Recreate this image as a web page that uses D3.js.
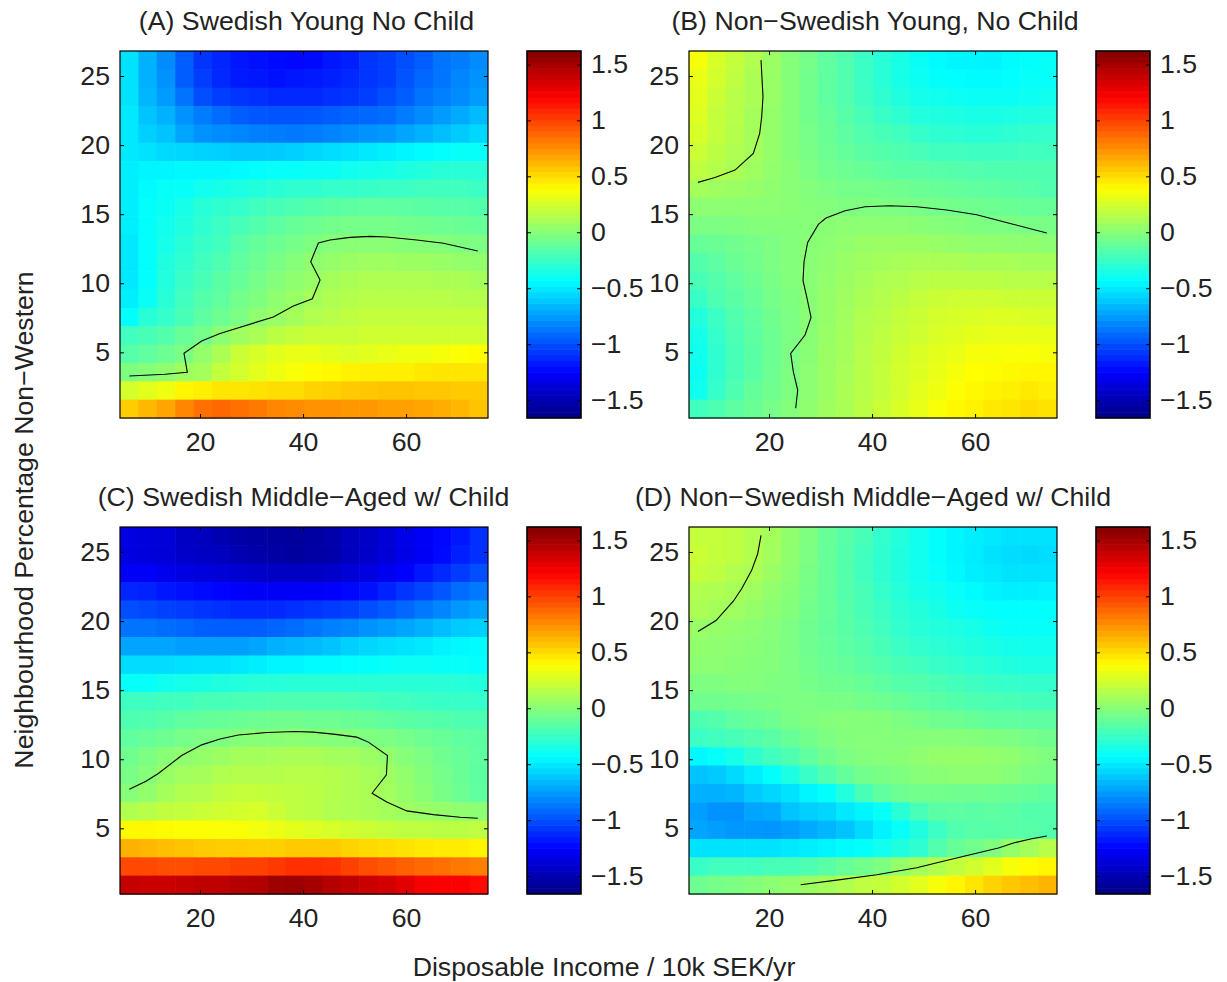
<!DOCTYPE html>
<html><head><meta charset="utf-8">
<style>html,body{margin:0;padding:0;background:#fff}svg{display:block}text{font-family:"Liberation Sans",Arial,sans-serif;fill:#222}</style>
<script src="https://cdn.jsdelivr.net/npm/d3@7/dist/d3.min.js"></script>
</head><body><svg id="c" width="1227" height="982"></svg>
<script>
const titles=["(A) Swedish Young No Child","(B) Non\u2212Swedish Young, No Child","(C) Swedish Middle\u2212Aged w/ Child","(D) Non\u2212Swedish Middle\u2212Aged w/ Child"];
const xLabel="Disposable Income / 10k SEK/yr";
const yLabel="Neighbourhood Percentage Non\u2212Western";
const incomeTicks=[20,40,60];
const percentTicks=[5,10,15,20,25];
const colorTicks=[-1.5,-1,-0.5,0,0.5,1,1.5];
const incomeRange=[4.47,75.9];
const percentRange=[0.246,26.81];
const colorRange=[-1.66,1.62];
// rows listed top (high percentage) to bottom, columns low to high income
const gridA=[
[-.52,-.68,-.8,-.95,-1.08,-1.13,-1.18,-1.2,-1.22,-1.23,-1.22,-1.18,-1.15,-1.08,-1.05,-1,-.95,-.88,-.85,-.8],
[-.52,-.68,-.78,-.95,-1.05,-1.12,-1.17,-1.18,-1.2,-1.18,-1.17,-1.15,-1.12,-1.08,-1.05,-.98,-.92,-.87,-.82,-.78],
[-.52,-.66,-.75,-.88,-1,-1.05,-1.08,-1.1,-1.12,-1.12,-1.12,-1.1,-1.08,-1.05,-1,-.95,-.88,-.84,-.8,-.75],
[-.5,-.62,-.68,-.78,-.85,-.9,-.95,-.97,-.98,-.98,-.97,-.95,-.93,-.92,-.9,-.85,-.8,-.75,-.7,-.65],
[-.5,-.58,-.62,-.72,-.78,-.8,-.82,-.84,-.85,-.86,-.85,-.83,-.8,-.78,-.76,-.72,-.68,-.64,-.6,-.56],
[-.5,-.52,-.55,-.56,-.57,-.58,-.6,-.6,-.6,-.58,-.56,-.54,-.52,-.5,-.48,-.46,-.44,-.42,-.41,-.41],
[-.48,-.46,-.46,-.45,-.45,-.45,-.44,-.42,-.41,-.41,-.4,-.4,-.38,-.37,-.36,-.34,-.32,-.3,-.3,-.3],
[-.48,-.44,-.41,-.41,-.38,-.36,-.34,-.32,-.3,-.28,-.28,-.26,-.26,-.25,-.24,-.24,-.22,-.22,-.22,-.24],
[-.48,-.42,-.4,-.36,-.3,-.28,-.26,-.22,-.2,-.18,-.16,-.14,-.13,-.12,-.12,-.13,-.14,-.15,-.15,-.16],
[-.48,-.42,-.38,-.33,-.28,-.24,-.2,-.17,-.13,-.1,-.08,-.06,-.05,-.05,-.05,-.06,-.07,-.08,-.09,-.1],
[-.5,-.42,-.36,-.3,-.25,-.22,-.15,-.11,-.08,-.05,-.02,0,.01,.01,.01,0,0,-.01,-.02,-.03],
[-.5,-.42,-.33,-.28,-.22,-.18,-.12,-.08,-.04,0,.03,.05,.07,.08,.08,.07,.07,.06,.05,.04],
[-.5,-.42,-.32,-.25,-.2,-.14,-.1,-.05,-.01,.03,.06,.1,.12,.13,.13,.13,.13,.12,.12,.1],
[-.48,-.4,-.3,-.22,-.16,-.12,-.06,-.02,.03,.06,.1,.13,.15,.16,.16,.16,.16,.16,.15,.15],
[-.42,-.3,-.26,-.2,-.13,-.08,-.03,.03,.06,.1,.14,.16,.18,.2,.2,.2,.2,.2,.2,.2],
[-.22,-.2,-.16,-.1,-.05,.02,.08,.12,.17,.2,.22,.22,.22,.24,.24,.24,.24,.24,.24,.24],
[-.15,-.12,-.08,-.03,.05,.12,.22,.26,.3,.32,.32,.3,.28,.3,.32,.34,.34,.36,.38,.4],
[-.02,0,.03,.08,.1,.2,.25,.3,.34,.37,.4,.41,.43,.44,.44,.44,.46,.47,.47,.47],
[.25,.3,.34,.42,.44,.47,.47,.48,.5,.5,.53,.54,.56,.57,.58,.58,.57,.57,.56,.56],
[.55,.62,.68,.78,.85,.88,.85,.82,.78,.76,.74,.74,.72,.72,.7,.7,.68,.65,.62,.58]];
const gridB=[
[.36,.26,.2,.14,.07,0,-.05,-.12,-.17,-.24,-.3,-.35,-.4,-.44,-.46,-.46,-.47,-.44,-.42,-.41],
[.32,.25,.18,.12,.06,0,-.06,-.12,-.17,-.24,-.3,-.36,-.39,-.42,-.43,-.44,-.44,-.43,-.41,-.41],
[.3,.22,.16,.12,.06,0,-.06,-.12,-.17,-.23,-.28,-.33,-.37,-.38,-.39,-.4,-.4,-.4,-.39,-.38],
[.28,.2,.16,.1,.05,0,-.06,-.1,-.15,-.2,-.25,-.28,-.32,-.33,-.34,-.35,-.35,-.34,-.33,-.32],
[.26,.2,.15,.1,.05,0,-.05,-.09,-.13,-.17,-.2,-.22,-.26,-.28,-.29,-.3,-.3,-.28,-.27,-.26],
[.22,.17,.13,.1,.05,0,-.04,-.08,-.11,-.14,-.16,-.18,-.2,-.22,-.22,-.23,-.23,-.23,-.22,-.22],
[.18,.15,.12,.08,.04,.01,-.03,-.06,-.08,-.1,-.12,-.14,-.14,-.15,-.16,-.17,-.18,-.18,-.18,-.18],
[.1,.08,.07,.05,.03,.01,-.01,-.03,-.05,-.05,-.06,-.07,-.09,-.1,-.11,-.12,-.13,-.14,-.15,-.17],
[.02,.02,.02,.02,.02,.01,0,-.01,-.02,-.02,-.02,-.03,-.04,-.05,-.06,-.07,-.08,-.09,-.1,-.1],
[-.03,-.03,-.02,-.01,-.01,0,0,.01,.02,.02,.02,.02,.01,0,-.01,-.02,-.03,-.03,-.04,-.04],
[-.1,-.09,-.07,-.05,-.03,-.01,.01,.02,.04,.06,.07,.07,.07,.06,.05,.04,.04,.03,.03,.02],
[-.16,-.13,-.09,-.06,-.03,-.01,.01,.03,.06,.08,.1,.11,.12,.12,.12,.11,.11,.11,.1,.1],
[-.2,-.16,-.12,-.08,-.04,-.01,.01,.04,.07,.1,.13,.14,.16,.17,.17,.17,.17,.16,.16,.16],
[-.25,-.18,-.14,-.1,-.05,-.02,.01,.05,.08,.12,.15,.17,.2,.22,.23,.23,.23,.22,.22,.22],
[-.32,-.24,-.17,-.12,-.07,-.03,.01,.05,.09,.14,.16,.2,.22,.25,.26,.27,.28,.28,.27,.26],
[-.36,-.26,-.19,-.13,-.08,-.03,.01,.06,.1,.15,.18,.21,.24,.27,.29,.31,.32,.32,.32,.32],
[-.38,-.28,-.2,-.14,-.08,-.03,.01,.07,.1,.16,.19,.24,.27,.3,.32,.36,.36,.37,.37,.36],
[-.39,-.28,-.2,-.14,-.08,-.02,.02,.07,.11,.16,.2,.25,.28,.32,.36,.39,.4,.41,.42,.42],
[-.38,-.26,-.18,-.11,-.07,-.02,.02,.07,.12,.16,.2,.25,.3,.34,.38,.41,.43,.44,.46,.44],
[-.22,-.18,-.13,-.09,-.05,-.01,.03,.08,.12,.17,.22,.27,.32,.37,.41,.43,.46,.47,.5,.48]];
const gridC=[
[-1.35,-1.36,-1.38,-1.44,-1.46,-1.5,-1.53,-1.55,-1.56,-1.57,-1.55,-1.52,-1.46,-1.43,-1.38,-1.32,-1.28,-1.23,-1.18,-1.1],
[-1.35,-1.36,-1.38,-1.42,-1.44,-1.46,-1.5,-1.52,-1.54,-1.56,-1.54,-1.52,-1.46,-1.42,-1.38,-1.32,-1.28,-1.22,-1.15,-1.1],
[-1.28,-1.28,-1.31,-1.34,-1.36,-1.38,-1.4,-1.42,-1.44,-1.44,-1.44,-1.42,-1.38,-1.35,-1.3,-1.25,-1.18,-1.12,-1.06,-1],
[-1.13,-1.14,-1.18,-1.2,-1.22,-1.24,-1.26,-1.28,-1.28,-1.28,-1.27,-1.26,-1.23,-1.2,-1.14,-1.08,-1.03,-.97,-.9,-.86],
[-1,-1.02,-1.04,-1.06,-1.08,-1.1,-1.12,-1.12,-1.12,-1.1,-1.08,-1.06,-1.04,-1,-.96,-.92,-.86,-.82,-.76,-.73],
[-.88,-.88,-.9,-.92,-.94,-.95,-.95,-.95,-.93,-.9,-.87,-.84,-.82,-.78,-.75,-.72,-.68,-.64,-.6,-.58],
[-.72,-.72,-.72,-.74,-.74,-.74,-.74,-.72,-.68,-.66,-.65,-.62,-.58,-.56,-.54,-.52,-.5,-.47,-.45,-.44],
[-.54,-.54,-.54,-.53,-.52,-.52,-.5,-.48,-.46,-.46,-.44,-.44,-.43,-.42,-.41,-.4,-.4,-.41,-.41,-.42],
[-.41,-.41,-.38,-.36,-.35,-.33,-.32,-.31,-.31,-.3,-.3,-.3,-.3,-.3,-.3,-.3,-.3,-.3,-.31,-.32],
[-.23,-.23,-.22,-.22,-.2,-.2,-.19,-.19,-.18,-.18,-.18,-.18,-.19,-.2,-.22,-.22,-.24,-.25,-.25,-.26],
[-.18,-.17,-.15,-.12,-.11,-.1,-.09,-.08,-.07,-.07,-.08,-.08,-.09,-.1,-.12,-.14,-.15,-.16,-.18,-.18],
[-.12,-.1,-.08,-.05,-.03,-.02,0,.01,.01,.02,.01,0,0,-.02,-.03,-.05,-.08,-.1,-.12,-.13],
[-.07,-.03,.01,.03,.05,.07,.1,.1,.11,.12,.12,.1,.09,.07,.04,0,-.03,-.07,-.1,-.12],
[-.04,0,.06,.09,.1,.14,.15,.15,.15,.16,.16,.15,.13,.11,.08,.04,-.01,-.05,-.09,-.13],
[0,.04,.1,.14,.15,.18,.2,.2,.19,.18,.17,.15,.13,.12,.09,.05,.01,-.04,-.08,-.12],
[.14,.16,.19,.2,.22,.24,.25,.26,.22,.18,.17,.14,.13,.12,.1,.08,.06,.05,.03,.02],
[.41,.41,.4,.38,.38,.38,.37,.35,.33,.3,.28,.26,.24,.22,.2,.18,.18,.17,.17,.18],
[.64,.62,.6,.58,.56,.55,.55,.54,.54,.56,.56,.56,.53,.51,.5,.48,.46,.45,.45,.43],
[.98,.98,.96,.96,.98,.98,1,1,1.03,1.06,1.06,1.05,1,.96,.93,.9,.87,.85,.82,.8],
[1.4,1.38,1.38,1.4,1.42,1.42,1.45,1.46,1.52,1.53,1.5,1.45,1.42,1.38,1.35,1.3,1.24,1.22,1.22,1.18]];
const gridD=[
[.2,.2,.18,.14,.1,.04,-.02,-.1,-.15,-.2,-.27,-.32,-.38,-.42,-.46,-.48,-.5,-.52,-.52,-.52],
[.22,.2,.18,.14,.09,.03,-.03,-.1,-.16,-.22,-.28,-.33,-.38,-.42,-.46,-.49,-.52,-.54,-.55,-.54],
[.2,.18,.14,.12,.07,.02,-.04,-.1,-.16,-.22,-.28,-.33,-.38,-.41,-.45,-.48,-.5,-.52,-.52,-.52],
[.14,.13,.11,.08,.04,0,-.05,-.1,-.16,-.2,-.26,-.31,-.36,-.38,-.41,-.44,-.47,-.48,-.48,-.47],
[.12,.1,.08,.05,.02,-.01,-.06,-.1,-.15,-.2,-.24,-.29,-.32,-.35,-.39,-.41,-.42,-.43,-.43,-.42],
[.06,.05,.04,.02,0,-.03,-.07,-.11,-.14,-.18,-.22,-.27,-.3,-.32,-.34,-.36,-.39,-.41,-.41,-.41],
[.04,.03,.02,.01,-.01,-.03,-.07,-.1,-.13,-.16,-.2,-.24,-.27,-.29,-.31,-.33,-.35,-.37,-.38,-.38],
[.02,.02,.01,0,-.01,-.03,-.06,-.09,-.11,-.14,-.17,-.2,-.22,-.25,-.27,-.29,-.31,-.33,-.34,-.34],
[-.02,-.02,-.01,-.01,-.02,-.03,-.05,-.07,-.08,-.1,-.13,-.16,-.17,-.19,-.21,-.23,-.25,-.26,-.27,-.27],
[-.07,-.07,-.06,-.05,-.04,-.03,-.03,-.04,-.04,-.06,-.08,-.1,-.12,-.14,-.16,-.18,-.19,-.2,-.21,-.21],
[-.18,-.16,-.12,-.1,-.08,-.04,-.02,-.01,0,0,-.01,-.03,-.05,-.07,-.08,-.1,-.12,-.12,-.13,-.13],
[-.24,-.22,-.2,-.17,-.14,-.1,-.06,-.03,-.01,0,0,-.01,0,0,0,-.01,-.02,-.03,-.05,-.07],
[-.45,-.41,-.36,-.28,-.22,-.18,-.12,-.07,-.03,-.01,0,.01,.03,.05,.05,.05,.04,.03,0,-.02],
[-.62,-.6,-.55,-.48,-.42,-.34,-.25,-.17,-.11,-.06,-.04,-.02,0,.01,.02,.02,.02,0,-.03,-.04],
[-.68,-.68,-.66,-.6,-.56,-.52,-.46,-.42,-.32,-.2,-.12,-.08,-.06,-.06,-.07,-.07,-.08,-.09,-.1,-.12],
[-.74,-.78,-.78,-.72,-.7,-.62,-.58,-.56,-.5,-.46,-.41,-.3,-.2,-.14,-.13,-.14,-.13,-.14,-.16,-.16],
[-.72,-.74,-.76,-.76,-.77,-.74,-.7,-.66,-.62,-.55,-.47,-.41,-.33,-.24,-.17,-.15,-.15,-.14,-.15,-.16],
[-.52,-.52,-.52,-.52,-.52,-.5,-.48,-.46,-.44,-.42,-.38,-.33,-.28,-.17,-.1,-.06,-.02,.05,.1,.16],
[-.25,-.22,-.22,-.22,-.2,-.2,-.18,-.14,-.1,-.06,-.02,.05,.1,.14,.19,.24,.3,.36,.4,.42],
[-.08,-.05,-.03,-.01,.02,.04,.07,.1,.14,.18,.2,.25,.3,.36,.42,.47,.53,.57,.6,.63]];
// zero contours as [income, percentage]
const contoursA=[[[6.28,3.29],[13.2,3.41],[17.54,3.55],[16.89,4.93],[20.32,5.82],[23.88,6.37],[34.24,7.56],[38.12,8.35],[41.81,8.88],[43.3,10.23],[41.49,11.56],[42.98,12.91],[45.24,13.13],[49.13,13.32],[53,13.39],[56.25,13.35],[62.07,13.13],[67.25,12.89],[73.92,12.33]]];
const contoursB=[[[18.45,26.15],[18.83,23.5],[18.58,22.05],[18.19,20.85],[16.96,19.4],[13.4,18.19],[9.51,17.66],[6.21,17.3]],
[[25.18,.95],[25.57,2.27],[24.72,3.6],[24.21,4.93],[26.99,6.25],[28.16,7.53],[27.31,9.03],[26.6,10.19],[26.8,11.56],[27.5,12.96],[29.58,14.26],[31.07,14.72],[34.76,15.25],[38.64,15.54],[43.5,15.61],[48.67,15.54],[54.5,15.3],[60.32,14.96],[66.8,14.33],[73.92,13.63]]];
const contoursC=[[[6.28,7.83],[9.51,8.41],[11.91,8.97],[16.44,10.27],[20.32,11.04],[23.88,11.46],[27.44,11.75],[32.94,11.94],[38.45,12.01],[42,11.96],[45.89,11.82],[50.42,11.6],[52.69,11.24],[56.38,10.27],[56.18,8.87],[53.4,7.54],[56.25,6.91],[60.13,6.26],[65.31,5.99],[70.49,5.8],[73.92,5.73]]];
const contoursD=[[[18.45,26.2],[17.8,24.87],[16.63,23.67],[14.69,22.34],[13.07,21.44],[9.71,20.04],[6.21,19.24]],
[[26.15,.91],[33.14,1.25],[40.91,1.64],[48.67,2.15],[53.2,2.56],[59.03,3.09],[64.53,3.57],[67.44,3.94],[71,4.25],[73.92,4.44]]];

const grids=[gridA,gridB,gridC,gridD];
const contours=[contoursA,contoursB,contoursC,contoursD];
const origins=[[120,51],[689,51],[120,527],[689,527]];
const titleX=[306.5,875,303.5,873];
const W=368,H=367,CBX=407,CBW=54;

const jetStops=[0,.125,.375,.625,.875,1];
const jetColors=["#000080","#0000ff","#00ffff","#ffff00","#ff0000","#800000"];
const toUnit=d3.scaleLinear().domain(colorRange).range([0,1]).clamp(true);
const jetScale=d3.scaleLinear().domain(jetStops).range(jetColors);
const jet=v=>jetScale(toUnit(v));

const svg=d3.select("#c");
const x=d3.scaleLinear().domain(incomeRange).range([0,W]);
const y=d3.scaleLinear().domain(percentRange).range([H,0]);
const cy=d3.scaleLinear().domain(colorRange).range([H,0]);
const col=d3.scaleBand().domain(d3.range(20)).range([0,W]);
const row=d3.scaleBand().domain(d3.range(20)).range([0,H]);
const line=d3.line().x(d=>x(d[0])).y(d=>y(d[1]));
const fs=26.7;

function box(g,w,h,sw){
  g.append("rect").attr("x",0).attr("y",0).attr("width",w).attr("height",h)
   .attr("fill","none").attr("stroke","#000").attr("stroke-width",sw);
}
function styleTicks(a,size){
  a.select(".domain").remove();
  a.selectAll("line").attr("stroke","#000").attr("stroke-width",1);
  a.selectAll("text").attr("font-size",size).style("fill","#222");
}

origins.forEach((o,k)=>{
  const g=svg.append("g").attr("transform",`translate(${o[0]},${o[1]})`);
  g.append("g").selectAll("g").data(grids[k]).join("g")
    .attr("transform",(d,r)=>`translate(0,${row(r)})`)
    .selectAll("rect").data(d=>d).join("rect")
    .attr("x",(d,c)=>col(c)).attr("y",0)
    .attr("width",(d,c)=>col.bandwidth()+(c<19?.6:0)).attr("height",row.bandwidth()+.6)
    .attr("fill",d=>jet(d));
  contours[k].forEach(c=>g.append("path").attr("d",line(c)).attr("fill","none").attr("stroke","#000").attr("stroke-width",1.1));
  // axes with inward ticks on both sides
  const xb=g.append("g").attr("transform",`translate(0,${H})`).call(d3.axisBottom(x).tickValues(incomeTicks).tickSize(-4).tickPadding(14));
  styleTicks(xb,fs);
  const xt=g.append("g").call(d3.axisTop(x).tickValues(incomeTicks).tickSize(-4).tickFormat(""));
  styleTicks(xt,fs);
  const yl=g.append("g").call(d3.axisLeft(y).tickValues(percentTicks).tickSize(-4).tickPadding(10));
  styleTicks(yl,fs);
  const yr=g.append("g").attr("transform",`translate(${W},0)`).call(d3.axisRight(y).tickValues(percentTicks).tickSize(-4).tickFormat(""));
  styleTicks(yr,fs);
  box(g,W,H,1.2);
  g.append("text").attr("x",titleX[k]-o[0]).attr("y",-21).attr("text-anchor","middle").attr("font-size",fs).text(titles[k]);

  // colour bar
  const b=g.append("g").attr("transform",`translate(${CBX},0)`);
  const step=(colorRange[1]-colorRange[0])/64;
  const levels=d3.range(64).map(i=>colorRange[0]+(i+.5)*step);
  b.selectAll("rect").data(levels).join("rect")
    .attr("x",0).attr("width",CBW)
    .attr("y",d=>cy(d+step/2)).attr("height",(d,i)=>cy(d-step/2)-cy(d+step/2)+(i>0?.6:0))
    .attr("fill",d=>jet(d));
  const fmt=d=>String(d).replace("-","\u2212");
  const cr=b.append("g").attr("transform",`translate(${CBW},0)`).call(d3.axisRight(cy).tickValues(colorTicks).tickSize(-4).tickPadding(14).tickFormat(fmt));
  styleTicks(cr,fs);
  cr.selectAll("text").attr("x",10).attr("text-anchor","start");
  const cl=b.append("g").call(d3.axisLeft(cy).tickValues(colorTicks).tickSize(-4).tickFormat(""));
  styleTicks(cl,fs);
  box(b,CBW,H,1.6);
});
svg.append("text").attr("x",604).attr("y",976).attr("text-anchor","middle").attr("font-size",fs).text(xLabel);
svg.append("text").attr("transform","translate(33,520) rotate(-90)").attr("text-anchor","middle").attr("font-size",fs).text(yLabel);
</script></body></html>
